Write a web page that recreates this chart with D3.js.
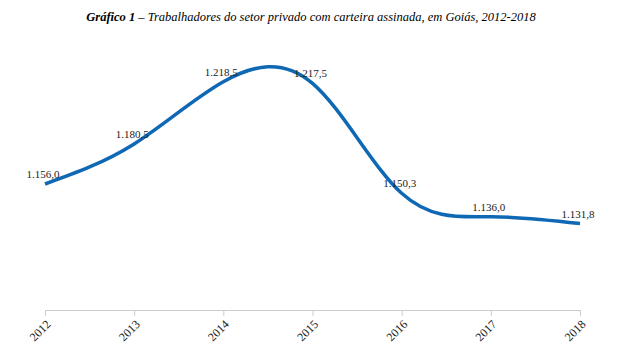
<!DOCTYPE html>
<html><head><meta charset="utf-8">
<script src="https://cdn.jsdelivr.net/npm/d3@7"></script>
<style>body{margin:0;background:#fff;} svg{display:block;}</style>
</head><body>
<svg id="c" width="620" height="350"></svg>
<script>
const years = ["2012","2013","2014","2015","2016","2017","2018"];
const values = [1156.0, 1180.5, 1218.5, 1217.5, 1150.3, 1136.0, 1131.8];
const valueLabels = ["1.156,0","1.180,5","1.218,5","1.217,5","1.150,3","1.136,0","1.131,8"];
const titleBold = "Gráfico 1";
const titleRest = " – Trabalhadores do setor privado com carteira assinada, em Goiás, 2012-2018";

const FONT = "'Liberation Serif', 'Times New Roman', serif";
const svg = d3.select("#c");
const x = d3.scalePoint().domain(years).range([45, 580]);
const y = d3.scaleLinear().domain([1079, 1244]).range([310, 40]);

const t = svg.append("text").attr("x", 311).attr("y", 21).attr("text-anchor", "middle")
  .style("font-family", FONT).attr("font-size", 12.5)
  .attr("font-style", "italic").attr("fill", "#000");
t.append("tspan").attr("font-weight", "bold").text(titleBold);
t.append("tspan").text(titleRest);

const axis = svg.append("g").attr("transform", "translate(0,310)")
  .call(d3.axisBottom(x).tickSize(6).tickSizeOuter(0));
axis.select(".domain").attr("stroke", "#ccc");
axis.selectAll(".tick line").attr("stroke", "#ccc");
axis.selectAll(".tick text").style("font-family", FONT)
  .attr("font-size", 12).attr("fill", "#222")
  .attr("text-anchor", "end").attr("dy", "0.35em").attr("dx", "0")
  .attr("transform", "translate(3,12) rotate(-45)").attr("y", 0).attr("x", 0);

const data = years.map((yr, i) => ({yr, v: values[i], l: valueLabels[i]}));
const line = d3.line().x(d => x(d.yr)).y(d => y(d.v)).curve(d3.curveNatural);
svg.append("path").datum(data).attr("d", line).attr("fill", "none")
  .attr("stroke", "#0f68b4").attr("stroke-width", 3.5);

svg.selectAll(".lbl").data(data).enter().append("text")
  .attr("x", d => x(d.yr) - 2).attr("y", d => y(d.v) - 6)
  .attr("text-anchor", "middle").style("font-family", FONT)
  .attr("font-size", 11).attr("fill", "#222").text(d => d.l);
</script>
</body></html>
